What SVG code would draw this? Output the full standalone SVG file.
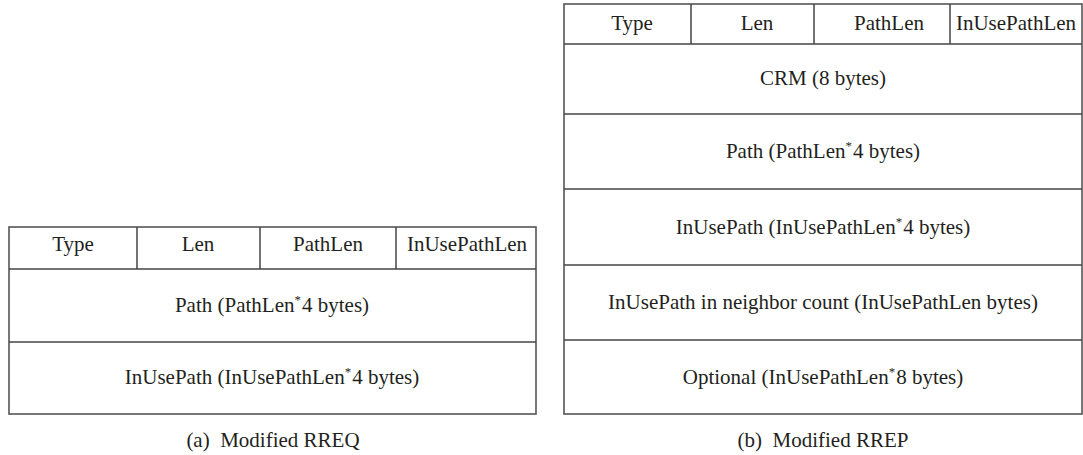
<svg xmlns="http://www.w3.org/2000/svg" width="1083" height="455" viewBox="0 0 1083 455">
<style>
.t{font-family:"Liberation Serif","DejaVu Serif",serif;font-size:21px;fill:#231f20;text-anchor:middle}
.sup{font-size:13px}
.b{fill:none;stroke:#555;stroke-width:1.6}
.l{stroke:#444;stroke-width:1.5}
</style>
<rect width="1083" height="455" fill="#fff"/>
<g id="rreq">
  <rect class="b" x="9" y="227" width="527" height="187"/>
  <g id="rreq-header">
    <line class="l" x1="9" y1="269" x2="536" y2="269"/>
    <line class="l" x1="137" y1="227" x2="137" y2="269"/>
    <line class="l" x1="260" y1="227" x2="260" y2="269"/>
    <line class="l" x1="396" y1="227" x2="396" y2="269"/>
    <text class="t" x="73" y="251">Type</text>
    <text class="t" x="198" y="251">Len</text>
    <text class="t" x="328" y="251">PathLen</text>
    <text class="t" x="467" y="251">InUsePathLen</text>
  </g>
  <g id="rreq-path">
    <line class="l" x1="9" y1="342" x2="536" y2="342"/>
    <text class="t" x="272" y="312">Path (PathLen<tspan class="sup" dy="-8">*</tspan><tspan dy="8" dx="1">4 bytes)</tspan></text>
  </g>
  <g id="rreq-inuse">
    <text class="t" x="272" y="384">InUsePath (InUsePathLen<tspan class="sup" dy="-8">*</tspan><tspan dy="8" dx="1">4 bytes)</tspan></text>
  </g>
  <text class="t" x="273" y="447" xml:space="preserve">(a)  Modified RREQ</text>
</g>
<g id="rrep">
  <rect class="b" x="564" y="4" width="518" height="410"/>
  <g id="rrep-header">
    <line class="l" x1="564" y1="44" x2="1082" y2="44"/>
    <line class="l" x1="691" y1="4" x2="691" y2="44"/>
    <line class="l" x1="814" y1="4" x2="814" y2="44"/>
    <line class="l" x1="950" y1="4" x2="950" y2="44"/>
    <text class="t" x="632" y="30">Type</text>
    <text class="t" x="757" y="30">Len</text>
    <text class="t" x="889" y="30">PathLen</text>
    <text class="t" x="1016" y="30">InUsePathLen</text>
  </g>
  <g id="rrep-crm">
    <line class="l" x1="564" y1="114" x2="1082" y2="114"/>
    <text class="t" x="823" y="85">CRM (8 bytes)</text>
  </g>
  <g id="rrep-path">
    <line class="l" x1="564" y1="189" x2="1082" y2="189"/>
    <text class="t" x="823" y="158">Path (PathLen<tspan class="sup" dy="-8">*</tspan><tspan dy="8" dx="1">4 bytes)</tspan></text>
  </g>
  <g id="rrep-inuse">
    <line class="l" x1="564" y1="265" x2="1082" y2="265"/>
    <text class="t" x="823" y="234">InUsePath (InUsePathLen<tspan class="sup" dy="-8">*</tspan><tspan dy="8" dx="1">4 bytes)</tspan></text>
  </g>
  <g id="rrep-neighbor">
    <line class="l" x1="564" y1="340" x2="1082" y2="340"/>
    <text class="t" x="823" y="309">InUsePath in neighbor count (InUsePathLen bytes)</text>
  </g>
  <g id="rrep-optional">
    <text class="t" x="823" y="384">Optional (InUsePathLen<tspan class="sup" dy="-8">*</tspan><tspan dy="8" dx="1">8 bytes)</tspan></text>
  </g>
  <text class="t" x="823" y="447" xml:space="preserve">(b)  Modified RREP</text>
</g>
<g id="connectors"/>
</svg>
